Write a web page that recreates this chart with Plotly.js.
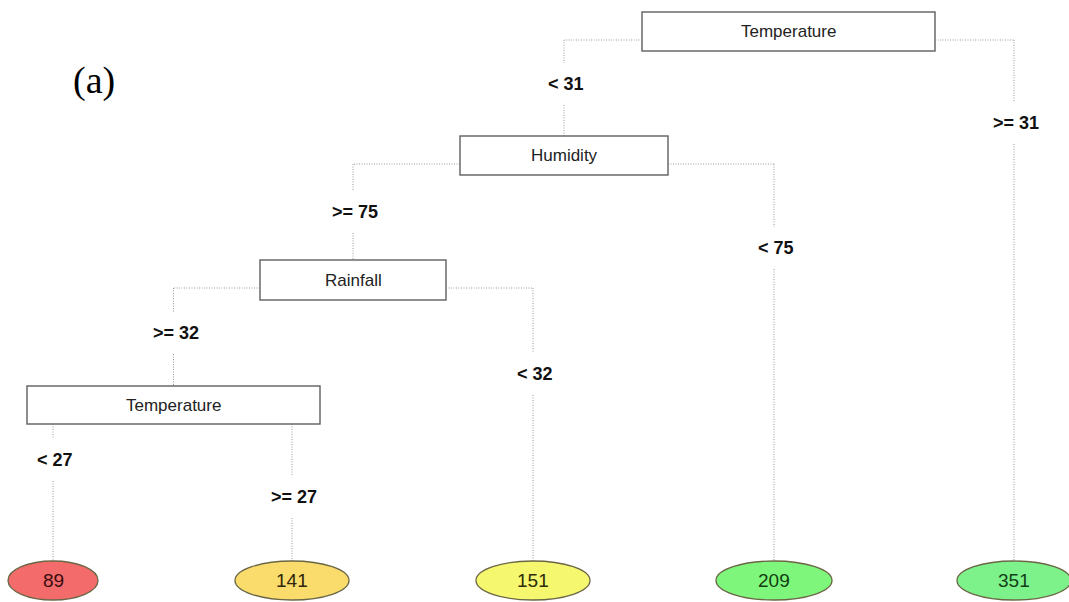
<!DOCTYPE html>
<html>
<head>
<meta charset="utf-8">
<script src="https://cdn.plot.ly/plotly-3.0.1.min.js"></script>
<style>
  html, body { margin: 0; padding: 0; background: #ffffff; }
  #chart { width: 1069px; height: 602px; }
</style>
</head>
<body>
<div id="chart"></div>
<script>
// ---- Tree data ----
// Split nodes (internal): variable and threshold tested
const splitVariables = ['Temperature', 'Humidity', 'Rainfall', 'Temperature'];
const splitThresholds = [31, 75, 32, 27];
// Operator written on the left / right branch of each split
const leftOperators = ['<', '>=', '>=', '<'];
const rightOperators = ['>=', '<', '<', '>='];
// Children of each split: 's#' = split node, 'l#' = leaf
const leftChild = ['s1', 's2', 's3', 'l0'];
const rightChild = ['l4', 'l3', 'l2', 'l1'];
// Leaf values
const leafValues = [89, 141, 151, 209, 351];

// ---- Layout (page pixel coordinates) ----
const W = 1069, H = 602;
const splitBoxX0 = [642, 460, 260, 27];
const splitBoxX1 = [935, 668, 446, 320];
const splitBoxY0 = [12, 136, 260, 386];
const splitBoxY1 = [51, 175, 300, 424];
const leafCenterX = [53, 292, 533, 774, 1014];
const leafHalfWidth = [45, 57, 57, 58, 57];
const leafTop = 561, leafBottom = 600;
// vertical position of the branch labels (left, right)
const leftLabelY = [84, 212, 333, 460];
const rightLabelY = [123, 248, 374, 497];
const labelGap = 21;

// ---- Styles ----
const leafFill = ['#f36b6b', '#f9dc6c', '#f5f76f', '#7ef57b', '#7df28b'];
const leafText = ['#3a0d0d', '#2e2608', '#2c2c06', '#123e10', '#124016'];
const connectorLine = { color: '#9a9a9a', width: 1, dash: '1px,1.5px' };
const boxLine = { color: '#6a6a6a', width: 1.5 };
const sansFont = 'Liberation Sans, Arial, sans-serif';

function nodeCenterX(ref) {
  const i = +ref.slice(1);
  return ref[0] === 's' ? (splitBoxX0[i] + splitBoxX1[i]) / 2 : leafCenterX[i];
}
function nodeTopY(ref) {
  const i = +ref.slice(1);
  return ref[0] === 's' ? splitBoxY0[i] : leafTop;
}

const shapes = [];
const annotations = [];

function seg(x0, y0, x1, y1) {
  shapes.push({ type: 'line', xref: 'x', yref: 'y', x0, y0, x1, y1, line: connectorLine, layer: 'below' });
}

// Connectors and branch labels
splitVariables.forEach((v, i) => {
  [[leftChild[i], leftOperators[i], leftLabelY[i], splitBoxX0[i]],
   [rightChild[i], rightOperators[i], rightLabelY[i], splitBoxX1[i]]].forEach(([child, op, ly, sideX]) => {
    const cx = nodeCenterX(child);
    const cy = nodeTopY(child);
    let startY;
    if (cx < splitBoxX0[i] || cx > splitBoxX1[i]) {
      startY = splitBoxY0[i] + 28;
      seg(sideX, startY, cx, startY);
    } else {
      startY = splitBoxY1[i];
    }
    seg(cx, startY, cx, ly - labelGap);
    seg(cx, ly + labelGap, cx, cy);
    annotations.push({
      xref: 'x', yref: 'y', x: cx + 2, y: ly, text: op + ' ' + splitThresholds[i],
      showarrow: false, xanchor: 'center', yanchor: 'middle',
      font: { family: sansFont, size: 18, color: '#111111', weight: 'bold' }
    });
  });
});

// Split boxes
splitVariables.forEach((v, i) => {
  shapes.push({ type: 'rect', xref: 'x', yref: 'y', x0: splitBoxX0[i], x1: splitBoxX1[i],
    y0: splitBoxY0[i], y1: splitBoxY1[i], line: boxLine, fillcolor: '#ffffff', layer: 'above' });
  annotations.push({
    xref: 'x', yref: 'y', x: (splitBoxX0[i] + splitBoxX1[i]) / 2, y: (splitBoxY0[i] + splitBoxY1[i]) / 2,
    text: v, showarrow: false, xanchor: 'center', yanchor: 'middle',
    font: { family: sansFont, size: 17, color: '#222222' }
  });
});

// Leaves
leafValues.forEach((val, i) => {
  shapes.push({ type: 'circle', xref: 'x', yref: 'y',
    x0: leafCenterX[i] - leafHalfWidth[i], x1: leafCenterX[i] + leafHalfWidth[i],
    y0: leafTop, y1: leafBottom, fillcolor: leafFill[i],
    line: { color: '#6b6645', width: 1.3 }, layer: 'above' });
  annotations.push({
    xref: 'x', yref: 'y', x: leafCenterX[i], y: (leafTop + leafBottom) / 2,
    text: String(val), showarrow: false, xanchor: 'center', yanchor: 'middle',
    font: { family: sansFont, size: 19, color: leafText[i] }
  });
});

// Panel tag
annotations.push({
  xref: 'x', yref: 'y', x: 94, y: 80, text: '(a)', showarrow: false,
  xanchor: 'center', yanchor: 'middle',
  font: { family: 'Liberation Serif, Times New Roman, serif', size: 38, color: '#000000' }
});

const layout = {
  width: W, height: H,
  margin: { l: 0, r: 0, t: 0, b: 0 },
  paper_bgcolor: '#ffffff', plot_bgcolor: '#ffffff',
  xaxis: { range: [0, W], visible: false, fixedrange: true },
  yaxis: { range: [H, 0], visible: false, fixedrange: true },
  showlegend: false,
  shapes, annotations
};

Plotly.newPlot('chart', [{ x: [], y: [], type: 'scatter', mode: 'markers', hoverinfo: 'skip' }], layout,
  { staticPlot: true, displayModeBar: false });
</script>
</body>
</html>
